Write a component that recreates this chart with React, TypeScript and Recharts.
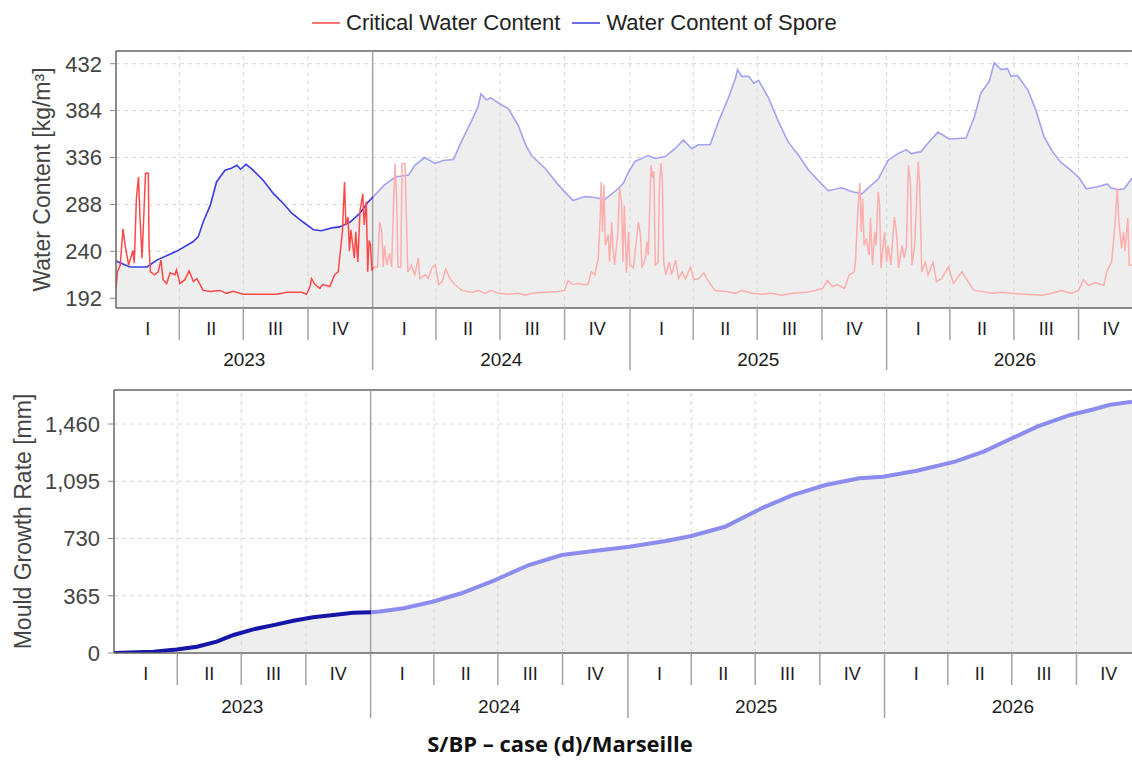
import React from 'react';
import { ComposedChart, Line, Area, XAxis, YAxis, CartesianGrid, ReferenceLine, Legend } from 'recharts';

// ---- calendar / axis labels ----
const years = ['2023', '2024', '2025', '2026'];
const yearStartDays = [0, 365, 731, 1096, 1461];
const quarterNames = ['I', 'II', 'III', 'IV'];
const quarterStartOffsets = [0, 90, 181, 273];

const waterTicks = [192, 240, 288, 336, 384, 432];
const growthTicks = [0, 365, 730, 1095, 1460];

const seriesNames = ['Critical Water Content', 'Water Content of Spore'];
const splitDay = 366; // end of first (dark) year

// ---- series: [day since 2023-01-01, value] ----
const sporeWater: [number, number][] = [
  [0, 230], [20, 224], [44, 224], [58, 231], [86, 240], [110, 250], [117, 255], [124, 270], [134, 287],
  [143, 311], [155, 323], [164, 325], [172, 328], [177, 324], [185, 329], [195, 323], [209, 313], [224, 299],
  [238, 289], [250, 279], [266, 270], [281, 262], [292, 261], [307, 264], [318, 265], [333, 270], [347, 279],
  [358, 290], [366, 296],
  [382, 308], [397, 316], [416, 318], [425, 328], [439, 336], [454, 330], [465, 333], [480, 334], [491, 352],
  [506, 374], [515, 388], [519, 401], [527, 395], [533, 397], [548, 390], [558, 386], [572, 369], [582, 350],
  [591, 338], [610, 325], [629, 308], [650, 292], [667, 296], [681, 295], [695, 293], [714, 304], [722, 310],
  [728, 320], [738, 332], [757, 338], [767, 335], [781, 337], [795, 345], [807, 354], [819, 345], [828, 349],
  [845, 349], [857, 373], [871, 397], [881, 417], [884, 426], [890, 419], [900, 419], [907, 412], [914, 415],
  [928, 397], [942, 373], [956, 352], [971, 338], [985, 323], [1001, 311], [1013, 302], [1032, 305], [1047, 301],
  [1061, 299], [1084, 314], [1098, 333], [1112, 340], [1124, 344], [1131, 340], [1145, 342], [1154, 350],
  [1169, 362], [1185, 355], [1209, 356], [1221, 378], [1230, 402], [1242, 414], [1249, 433], [1259, 426],
  [1268, 427], [1273, 419], [1282, 420], [1297, 405], [1308, 385], [1320, 357], [1332, 342], [1344, 331],
  [1358, 323], [1370, 315], [1380, 304], [1396, 306], [1410, 309], [1415, 305], [1425, 303], [1434, 304],
  [1445, 315],
];

const criticalWater: [number, number][] = [
  [0, 202], [2, 219], [6, 226], [10, 263], [13, 246], [18, 226], [24, 241], [26, 228], [29, 294], [32, 316],
  [34, 277], [37, 233], [39, 267], [42, 320], [46, 320], [47, 246], [49, 219], [55, 216], [60, 219], [64, 231],
  [67, 211], [72, 207], [77, 218], [84, 216], [86, 221], [91, 207], [98, 211], [104, 220], [110, 209], [115, 212],
  [124, 200], [134, 199], [148, 200], [157, 197], [167, 199], [181, 196], [205, 196], [229, 196], [243, 198],
  [264, 198], [271, 196], [276, 204], [278, 212], [283, 206], [290, 202], [294, 206], [304, 204], [311, 216],
  [316, 219], [318, 233], [322, 260], [325, 311], [327, 267], [330, 275], [332, 240], [334, 262], [339, 233],
  [341, 260], [344, 229], [347, 281], [351, 299], [353, 267], [356, 291], [358, 219], [360, 251], [362, 246],
  [364, 220], [366, 224],
  [372, 224], [375, 270], [378, 260], [380, 224], [382, 246], [385, 226], [389, 238], [392, 224], [395, 294],
  [397, 330], [399, 298], [401, 224], [405, 224], [407, 330], [411, 330], [413, 274], [415, 219], [420, 226],
  [425, 216], [430, 233], [432, 212], [440, 216], [444, 212], [449, 223], [454, 226], [459, 206], [464, 209],
  [469, 222], [475, 212], [482, 206], [492, 200], [506, 198], [515, 200], [525, 197], [534, 200], [544, 197],
  [558, 196], [572, 197], [582, 195], [591, 197], [610, 198], [629, 199], [638, 200], [643, 210], [650, 206],
  [657, 207], [664, 206], [671, 206], [676, 219], [681, 216], [686, 233], [689, 281], [690, 311], [692, 260],
  [694, 308], [696, 246], [700, 257], [702, 229], [705, 270], [707, 243], [709, 226], [714, 260], [716, 305],
  [719, 291], [721, 229], [723, 287], [726, 218], [729, 260], [731, 226], [736, 223], [741, 257], [743, 270],
  [746, 257], [748, 223], [753, 233], [755, 250], [757, 236], [761, 328], [763, 315], [765, 322], [767, 226],
  [771, 229], [773, 308], [775, 330], [777, 315], [779, 229], [782, 216], [787, 229], [790, 216], [796, 231],
  [800, 212], [805, 219], [810, 212], [817, 224], [822, 211], [829, 212], [836, 218], [843, 209], [852, 200],
  [867, 199], [881, 197], [890, 200], [905, 197], [919, 196], [933, 197], [947, 195], [962, 197], [981, 198],
  [995, 200], [1005, 202], [1012, 210], [1019, 204], [1026, 206], [1036, 202], [1043, 216], [1050, 219],
  [1052, 233], [1055, 281], [1058, 310], [1060, 260], [1062, 294], [1064, 246], [1067, 253], [1071, 236],
  [1073, 274], [1076, 226], [1079, 260], [1081, 246], [1084, 301], [1086, 287], [1088, 223], [1093, 260],
  [1096, 229], [1098, 246], [1102, 226], [1107, 275], [1110, 260], [1113, 223], [1118, 246], [1121, 233],
  [1124, 243], [1127, 328], [1130, 308], [1132, 226], [1136, 246], [1139, 301], [1141, 332], [1143, 308],
  [1146, 219], [1151, 229], [1155, 216], [1162, 229], [1167, 209], [1174, 212], [1184, 224], [1191, 207],
  [1203, 219], [1210, 211], [1220, 200], [1232, 199], [1246, 197], [1260, 198], [1274, 197], [1293, 196],
  [1317, 195], [1331, 197], [1345, 200], [1359, 197], [1369, 200], [1376, 211], [1383, 205], [1393, 208],
  [1405, 205], [1409, 219], [1416, 229], [1420, 260], [1422, 281], [1424, 305], [1426, 274], [1430, 243],
  [1433, 260], [1435, 240], [1439, 274], [1441, 226], [1445, 226],
];

const mouldGrowth: [number, number][] = [
  [0, 0], [56, 8], [89, 23], [118, 40], [146, 72], [170, 115], [198, 151], [227, 178], [255, 206], [283, 228],
  [312, 242], [340, 257], [366, 260],
  [378, 265], [412, 285], [453, 327], [494, 381], [542, 465], [590, 561], [637, 625], [685, 652], [733, 678],
  [787, 716], [821, 746], [869, 805], [924, 929], [965, 1007], [1012, 1071], [1060, 1114], [1094, 1124],
  [1142, 1162], [1196, 1220], [1237, 1284], [1272, 1358], [1313, 1443], [1360, 1518], [1394, 1554],
  [1415, 1581], [1448, 1602],
];

const toPoints = (arr: [number, number][]) => arr.map(([day, v]) => ({ day, v }));
const before = (arr: [number, number][]) => toPoints(arr.filter((p) => p[0] <= splitDay));
const after = (arr: [number, number][]) => toPoints(arr.filter((p) => p[0] >= splitDay));

const TOP_END = 1445;
const BOTTOM_END = 1448;

type TickItem = { day: number; kind: 'qb' | 'yb' | 'q' | 'y'; label: string };

function buildTicks(end: number): TickItem[] {
  const list: TickItem[] = [];
  years.forEach((yr, i) => {
    const ys = yearStartDays[i];
    const ye = yearStartDays[i + 1];
    const bounds = quarterStartOffsets.map((o) => ys + o).concat([ye]);
    quarterNames.forEach((qn, q) => {
      if (bounds[q] > 0) list.push({ day: bounds[q], kind: q === 0 ? 'yb' : 'qb', label: '' });
      list.push({ day: (bounds[q] + bounds[q + 1]) / 2, kind: 'q', label: qn });
    });
    list.push({ day: (ys + ye) / 2, kind: 'y', label: yr });
  });
  return list.filter((t) => t.day <= end).sort((a, b) => a.day - b.day);
}

const gridDays = (end: number) =>
  buildTicks(end).filter((t) => t.kind === 'qb' || (t.kind === 'yb' && t.day !== yearStartDays[1])).map((t) => t.day);

type TickCfg = { qDy: number; yDy: number; qLen: number; yLen: number };

const makeTick = (list: TickItem[], cfg: TickCfg) => (props: any) => {
  const { x, y, payload } = props;
  const t = list.find((tt) => tt.day === payload.value);
  if (!t) return <g />;
  if (t.kind === 'qb' || t.kind === 'yb') {
    return (
      <line x1={x} x2={x} y1={y} y2={y + (t.kind === 'yb' ? cfg.yLen : cfg.qLen)} stroke="#a3a3a3" strokeWidth={1.5} />
    );
  }
  return (
    <text x={x} y={y + (t.kind === 'q' ? cfg.qDy : cfg.yDy)} textAnchor="middle" fill="#1c1c1c" fontSize={t.kind === 'q' ? 18 : 19}>
      {t.label}
    </text>
  );
};

const LegendContent = (props: any) => {
  const items = (props.payload || []).filter((p: any) => p.type !== 'none' && seriesNames.includes(p.value));
  items.sort((a: any, b: any) => seriesNames.indexOf(a.value) - seriesNames.indexOf(b.value));
  return (
    <div style={{ display: 'flex', alignItems: 'center', fontSize: 22, color: '#222', whiteSpace: 'nowrap' }}>
      {items.map((it: any) => (
        <span key={it.value} style={{ display: 'inline-flex', alignItems: 'center', marginRight: 12 }}>
          <svg width={28} height={10} style={{ marginRight: 6 }}>
            <line x1={0} x2={28} y1={5} y2={5} stroke={it.color} strokeWidth={1.5} />
          </svg>
          <span>{it.value}</span>
        </span>
      ))}
    </div>
  );
};

const topTicks = buildTicks(TOP_END);
const bottomTicks = buildTicks(BOTTOM_END);

export default function App() {
  const font = '"Liberation Sans", Arial, sans-serif';
  return (
    <div style={{ position: 'absolute', left: 0, top: 0, width: 1132, height: 763, background: '#fff', fontFamily: font, overflow: 'hidden' }}>
      <div style={{ position: 'absolute', left: 0, top: 0 }}>
        <ComposedChart width={1132} height={375} margin={{ top: 51, right: 0, left: 0, bottom: 3 }}>
          <CartesianGrid vertical={false} stroke="#d6d6d6" strokeDasharray="4 4" />
          <XAxis
            type="number"
            dataKey="day"
            domain={[0, TOP_END]}
            allowDataOverflow
            ticks={topTicks.map((t) => t.day)}
            interval={0}
            tickLine={false}
            tickSize={0}
            tickMargin={0}
            height={64}
            axisLine={{ stroke: '#666', strokeWidth: 1.5 }}
            tick={makeTick(topTicks, { qDy: 27, yDy: 58, qLen: 32, yLen: 62 })}
          />
          <YAxis
            type="number"
            domain={[182, 445]}
            allowDataOverflow
            ticks={waterTicks}
            interval={0}
            width={116}
            tickSize={6}
            tickMargin={8}
            tick={{ fill: '#444', fontSize: 22 }}
            tickLine={{ stroke: '#888' }}
            axisLine={{ stroke: '#666', strokeWidth: 1.5 }}
            label={{ value: 'Water Content [kg/m³]', angle: -90, position: 'insideLeft', offset: 42, style: { textAnchor: 'middle', fill: '#444', fontSize: 23 } }}
          />
          {gridDays(TOP_END).map((d) => (
            <ReferenceLine key={'g' + d} x={d} stroke="#d6d6d6" strokeDasharray="4 4" />
          ))}
          <ReferenceLine y={445} stroke="#666" strokeWidth={1.5} />
          <Area data={toPoints(sporeWater)} dataKey="v" type="linear" stroke="none" fill="#eeeeee" fillOpacity={1} isAnimationActive={false} legendType="none" activeDot={false} />
          <ReferenceLine x={yearStartDays[1]} stroke="#a3a3a3" strokeWidth={1.5} />
          <Line data={before(sporeWater)} dataKey="v" name={seriesNames[1]} type="linear" stroke="#3b3be3" strokeWidth={1.6} dot={false} activeDot={false} isAnimationActive={false} />
          <Line data={after(sporeWater)} dataKey="v" name="spore-later" type="linear" stroke="#a3a3f2" strokeWidth={1.6} dot={false} activeDot={false} isAnimationActive={false} legendType="none" />
          <Line data={before(criticalWater)} dataKey="v" name={seriesNames[0]} type="linear" stroke="#ff4848" strokeWidth={1.5} dot={false} activeDot={false} isAnimationActive={false} />
          <Line data={after(criticalWater)} dataKey="v" name="critical-later" type="linear" stroke="#ffaeae" strokeWidth={1.5} dot={false} activeDot={false} isAnimationActive={false} legendType="none" />
          <Legend verticalAlign="middle" align="center" content={LegendContent} wrapperStyle={{ top: 10, left: 312, width: 640 }} />
        </ComposedChart>
      </div>
      <div style={{ position: 'absolute', left: 0, top: 375 }}>
        <ComposedChart width={1132} height={348} margin={{ top: 15, right: 0, left: 0, bottom: 0 }}>
          <CartesianGrid vertical={false} stroke="#d6d6d6" strokeDasharray="4 4" />
          <XAxis
            type="number"
            dataKey="day"
            domain={[0, BOTTOM_END]}
            allowDataOverflow
            ticks={bottomTicks.map((t) => t.day)}
            interval={0}
            tickLine={false}
            tickSize={0}
            tickMargin={0}
            height={70}
            axisLine={{ stroke: '#666', strokeWidth: 1.5 }}
            tick={makeTick(bottomTicks, { qDy: 27, yDy: 60, qLen: 32, yLen: 65 })}
          />
          <YAxis
            type="number"
            domain={[0, 1677]}
            allowDataOverflow
            ticks={growthTicks}
            interval={0}
            width={114}
            tickSize={6}
            tickMargin={8}
            tickFormatter={(v: number) => v.toLocaleString('en-US')}
            tick={{ fill: '#444', fontSize: 22 }}
            tickLine={{ stroke: '#888' }}
            axisLine={{ stroke: '#666', strokeWidth: 1.5 }}
            label={{ value: 'Mould Growth Rate [mm]', angle: -90, position: 'insideLeft', offset: 23, style: { textAnchor: 'middle', fill: '#444', fontSize: 23 } }}
          />
          {gridDays(BOTTOM_END).map((d) => (
            <ReferenceLine key={'g' + d} x={d} stroke="#d6d6d6" strokeDasharray="4 4" />
          ))}
          <ReferenceLine y={1677} stroke="#666" strokeWidth={1.5} />
          <Area data={toPoints(mouldGrowth)} dataKey="v" type="linear" stroke="none" fill="#eeeeee" fillOpacity={1} isAnimationActive={false} legendType="none" activeDot={false} />
          <ReferenceLine x={yearStartDays[1]} stroke="#a3a3a3" strokeWidth={1.5} />
          <Line data={before(mouldGrowth)} dataKey="v" name="Mould Growth" type="linear" stroke="#1515a8" strokeWidth={4} dot={false} activeDot={false} isAnimationActive={false} legendType="none" />
          <Line data={after(mouldGrowth)} dataKey="v" name="Mould Growth later" type="linear" stroke="#8c8cee" strokeWidth={4} dot={false} activeDot={false} isAnimationActive={false} legendType="none" />
        </ComposedChart>
      </div>
      <div style={{ position: 'absolute', left: 0, top: 732, width: 1120, textAlign: 'center', fontFamily: '"Open Sans", sans-serif', fontWeight: 700, fontSize: 22, lineHeight: '22px', color: '#111' }}>
        S/BP – case (d)/Marseille
      </div>
    </div>
  );
}
